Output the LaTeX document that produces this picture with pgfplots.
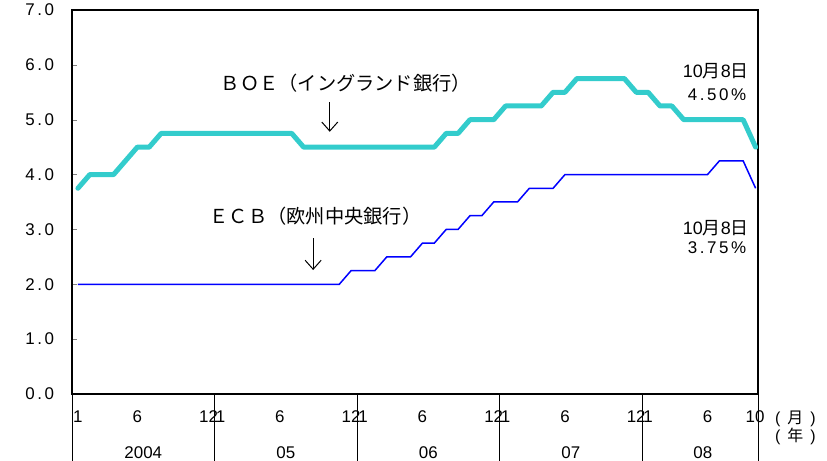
\documentclass[border=0pt]{standalone}
\usepackage{fontspec}
\setmainfont{Liberation Sans}
\newfontfamily\cjk{Noto Sans CJK JP}
\newfontfamily\spaced[LetterSpace=15]{Liberation Sans}
\usepackage{pgfplots}
\usepackage{pgfplotstable}
\pgfplotsset{compat=1.18}
\usetikzlibrary{arrows.meta}
\definecolor{boe}{RGB}{51,204,204}

\pgfplotstableread{
x boe ecb
0.5 3.75 2.00
1.5 4.00 2.00
2.5 4.00 2.00
3.5 4.00 2.00
4.5 4.25 2.00
5.5 4.50 2.00
6.5 4.50 2.00
7.5 4.75 2.00
8.5 4.75 2.00
9.5 4.75 2.00
10.5 4.75 2.00
11.5 4.75 2.00
12.5 4.75 2.00
13.5 4.75 2.00
14.5 4.75 2.00
15.5 4.75 2.00
16.5 4.75 2.00
17.5 4.75 2.00
18.5 4.75 2.00
19.5 4.50 2.00
20.5 4.50 2.00
21.5 4.50 2.00
22.5 4.50 2.00
23.5 4.50 2.25
24.5 4.50 2.25
25.5 4.50 2.25
26.5 4.50 2.50
27.5 4.50 2.50
28.5 4.50 2.50
29.5 4.50 2.75
30.5 4.50 2.75
31.5 4.75 3.00
32.5 4.75 3.00
33.5 5.00 3.25
34.5 5.00 3.25
35.5 5.00 3.50
36.5 5.25 3.50
37.5 5.25 3.50
38.5 5.25 3.75
39.5 5.25 3.75
40.5 5.50 3.75
41.5 5.50 4.00
42.5 5.75 4.00
43.5 5.75 4.00
44.5 5.75 4.00
45.5 5.75 4.00
46.5 5.75 4.00
47.5 5.50 4.00
48.5 5.50 4.00
49.5 5.25 4.00
50.5 5.25 4.00
51.5 5.00 4.00
52.5 5.00 4.00
53.5 5.00 4.00
54.5 5.00 4.25
55.5 5.00 4.25
56.5 5.00 4.25
57.55 4.50 3.75
}\rates

\begin{document}
\begin{tikzpicture}
\useasboundingbox (-72bp,-67bp) rectangle (755bp,394bp);
\begin{axis}[
  at={(0,0)}, anchor=south west,
  scale only axis, width=686bp, height=384bp,
  xmin=0, xmax=57.75, ymin=0, ymax=7,
  clip=false,
  axis line style={line width=1.5bp},
  tick align=inside,
  ytick pos=left,
  xtick pos=bottom,
  major tick length=5bp,
  ytick={0,1,2,3,4,5,6,7},
  yticklabels={0.0,1.0,2.0,3.0,4.0,5.0,6.0,7.0},
  yticklabel style={font=\fontsize{17}{19}\spaced, xshift=-14.5bp},
  xtick={0.5,5.5,11.5,12.5,17.5,23.5,24.5,29.5,35.5,36.5,41.5,47.5,48.5,53.5,57.5},
  xticklabels={1,6,12,1,6,12,1,6,12,1,6,12,1,6,10},
  xticklabel style={font=\fontsize{17}{19}\selectfont, yshift=-13.5bp},
  major x tick style={draw=none},
  extra x ticks={0,12,24,36,48,57.75},
  extra x tick labels={},
  extra x tick style={tick align=outside, major tick length=68bp,
     major x tick style={draw=black, line width=0.8bp}},
]
\addplot[color=boe, line width=5bp, line join=round, line cap=round] table[x=x, y=boe] {\rates};
\addplot[color=blue, line width=1.5bp] table[x=x, y=ecb] {\rates};

\node[font=\fontsize{19.3}{21}\cjk] at (axis cs:23.06,5.66) {ＢＯＥ（イングランド銀行）};
\draw[-{Straight Barb[length=9bp,width=16bp]}, line width=1bp] (axis cs:21.7,5.32) -- (axis cs:21.7,4.78);
\node[font=\fontsize{19.3}{21}\cjk] at (axis cs:20.5,3.25) {ＥＣＢ（欧州中央銀行）};
\draw[-{Straight Barb[length=9bp,width=16bp]}, line width=1bp] (axis cs:20.3,2.84) -- (axis cs:20.3,2.26);

\node[font=\fontsize{18}{20}\selectfont] at (axis cs:54.2,5.89) {10{\cjk 月}8{\cjk 日}};
\node[font=\fontsize{17}{19}\spaced] at (axis cs:54.3,5.45) {4.50\%};
\node[font=\fontsize{18}{20}\selectfont] at (axis cs:54.2,3.03) {10{\cjk 月}8{\cjk 日}};
\node[font=\fontsize{17}{19}\spaced] at (axis cs:54.3,2.66) {3.75\%};

\node[font=\fontsize{17}{19}\selectfont] at (axis cs:6,0) [yshift=-59bp] {2004};
\node[font=\fontsize{17}{19}\selectfont] at (axis cs:18,0) [yshift=-59bp] {05};
\node[font=\fontsize{17}{19}\selectfont] at (axis cs:30,0) [yshift=-59bp] {06};
\node[font=\fontsize{17}{19}\selectfont] at (axis cs:42,0) [yshift=-59bp] {07};
\node[font=\fontsize{17}{19}\selectfont] at (axis cs:53.1,0) [yshift=-59bp] {08};

\node[font=\fontsize{16}{18}\selectfont] at (axis cs:60.9,0) [yshift=-25bp] {(\hspace{7bp}{\cjk 月}\hspace{7bp})};
\node[font=\fontsize{16}{18}\selectfont] at (axis cs:60.9,0) [yshift=-42bp] {(\hspace{7bp}{\cjk 年}\hspace{7bp})};
\end{axis}
\end{tikzpicture}
\end{document}
